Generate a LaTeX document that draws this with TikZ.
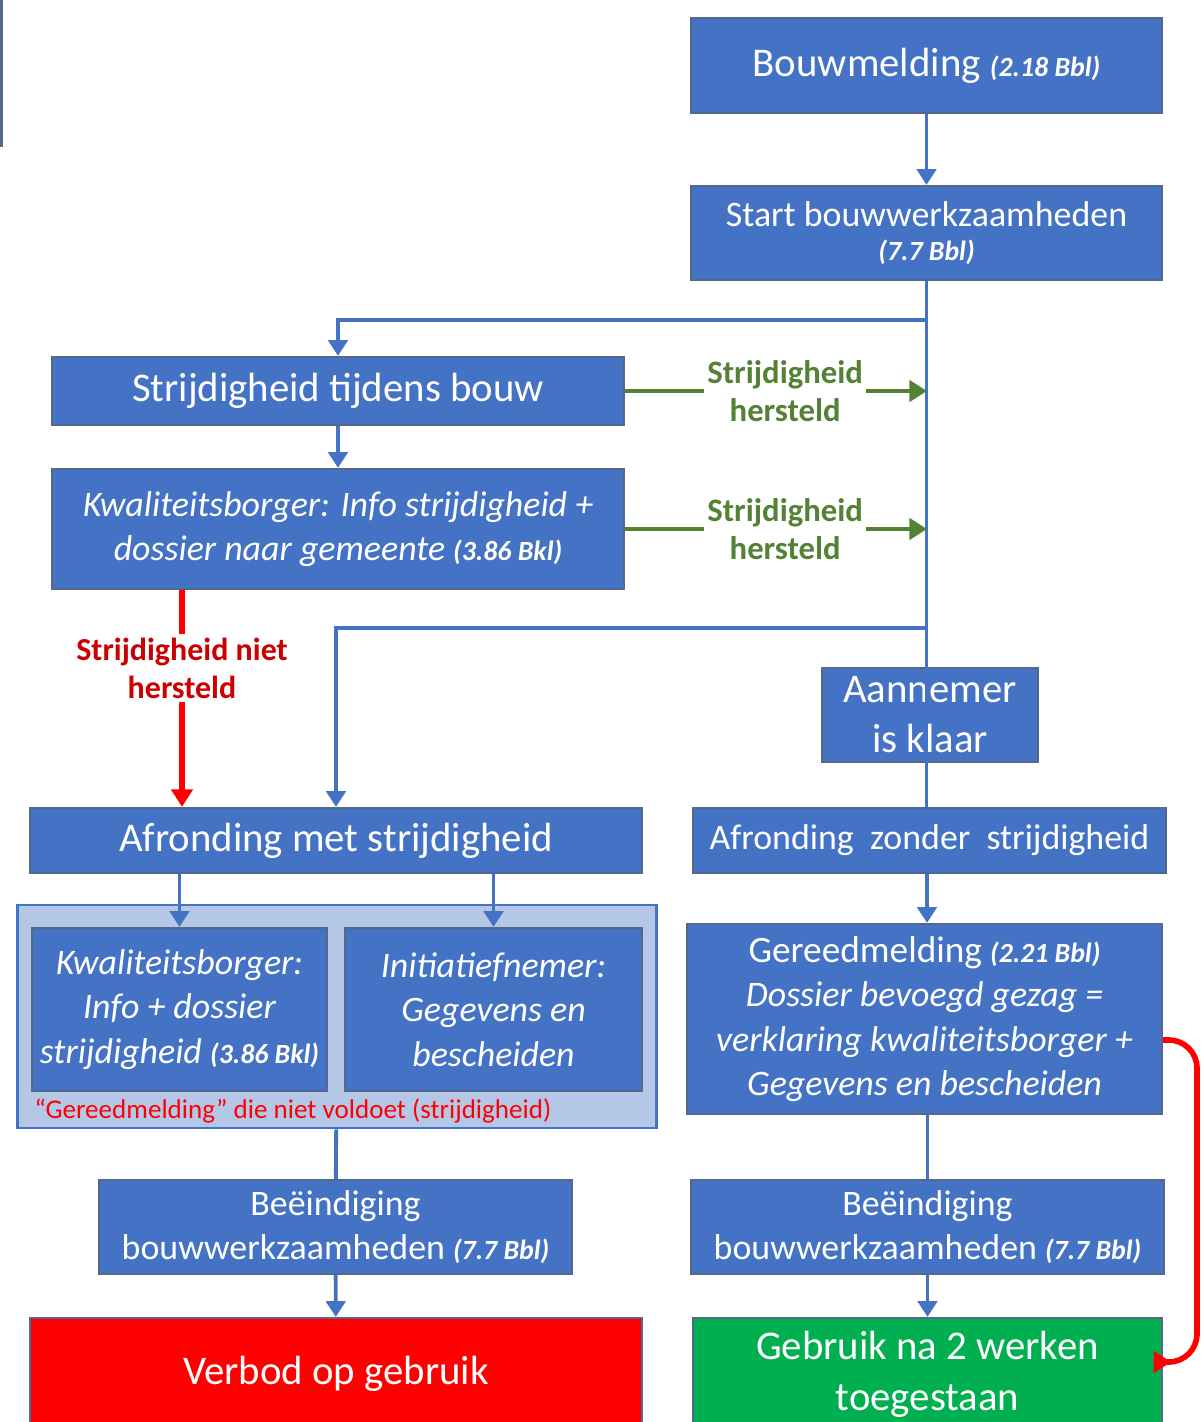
\documentclass[tikz,border=0pt]{standalone}
\usepackage{fontspec}
\setmainfont{Carlito}
\usetikzlibrary{arrows.meta}

\definecolor{boxblue}{RGB}{68,114,196}
\definecolor{edgeblue}{RGB}{84,104,140}
\definecolor{lightblue}{RGB}{180,199,231}
\definecolor{okgreen}{RGB}{84,130,53}
\definecolor{labred}{RGB}{204,0,0}
\definecolor{goodgreen}{RGB}{0,176,80}

\newcommand{\artikel}[1]{{\fontsize{7.9}{8}\selectfont\bfseries\itshape #1}}
\newcommand{\groot}{\fontsize{11.6}{14}\selectfont}
\newcommand{\middel}{\fontsize{10.2}{12.6}\selectfont}
\newcommand{\cursief}{\fontsize{10.2}{12.6}\selectfont\itshape}

\begin{document}
\begin{tikzpicture}[x=0.01cm, y=-0.01cm,
    box/.style={draw=edgeblue, fill=boxblue, text=white, align=center,
        inner sep=0pt, line width=0.6pt},
    arr/.style={draw=boxblue, line width=1.1pt, -{Triangle[length=4.5pt,width=5.5pt]}},
    ln/.style={draw=boxblue, line width=1.1pt},
    okarr/.style={draw=okgreen, line width=1.2pt, -{Triangle[length=5pt,width=6pt]}},
    nokarr/.style={draw=red, line width=1.6pt, -{Triangle[length=5pt,width=6pt]}},
    oklab/.style={fill=white, text=okgreen, align=center, inner sep=1pt,
        font=\bfseries\fontsize{9.3}{10.8}\selectfont},
    noklab/.style={fill=white, text=labred, align=center, inner sep=1pt,
        font=\bfseries\fontsize{9.1}{10.8}\selectfont}]
    \useasboundingbox (0,0) rectangle (1201,1422);
    \draw[edgeblue, line width=1.2pt] (1,0) -- (1,147);

    \node[box, minimum width=4.71cm, minimum height=0.95cm] (melding) at (926.5,65.5)
        {\groot Bouwmelding \artikel{(2.18 Bbl)}};
    \node[box, minimum width=4.71cm, minimum height=0.94cm, font=\middel] (start) at (926.5,233)
        {\rule[-6pt]{0pt}{6pt}Start bouwwerkzaamheden\\[-3pt]\artikel{(7.7 Bbl)}};
    \node[box, minimum width=5.72cm, minimum height=0.68cm] (tijdens) at (338,391)
        {\groot Strijdigheid tijdens bouw};
    \node[box, minimum width=5.72cm, minimum height=1.20cm, font=\cursief] (borger) at (338,529)
        {Kwaliteitsborger: Info strijdigheid +\\
         dossier naar gemeente \artikel{(3.86 Bkl)}};
    \node[box, minimum width=2.16cm, minimum height=0.94cm, font=\fontsize{11.6}{14.2}\selectfont]
        (klaar) at (930,715) {Aannemer\\is klaar};
    \node[box, minimum width=6.12cm, minimum height=0.65cm] (afmet) at (336,840.5)
        {\groot Afronding met strijdigheid};
    \node[box, minimum width=4.73cm, minimum height=0.65cm] (afzonder) at (929.5,840.5)
        {\middel Afronding\ \ zonder\ \ strijdigheid};

    \node[draw=boxblue, fill=lightblue, line width=0.8pt, inner sep=0pt,
        minimum width=6.38cm, minimum height=2.23cm] (groep) at (337,1016.5) {};
    \node[box, minimum width=2.95cm, minimum height=1.63cm, font=\cursief] (borger2) at (179.5,1009.5)
        {Kwaliteitsborger:\\ Info + dossier\\ strijdigheid \artikel{(3.86 Bkl)}};
    \node[box, minimum width=2.97cm, minimum height=1.63cm, font=\cursief] (nemer) at (493.5,1009.5)
        {Initiatiefnemer:\\ Gegevens en\\ bescheiden};
    \node[anchor=west, text=red, inner sep=0pt, font=\fontsize{7.7}{9}\selectfont]
        (voldoet) at (34,1111) {“Gereedmelding” die niet voldoet (strijdigheid)};

    \node[box, minimum width=4.75cm, minimum height=1.90cm, font=\cursief] (gereed) at (924.5,1019)
        {{\upshape\fontsize{10.6}{12.8}\selectfont Gereedmelding} \artikel{(2.21 Bbl)}\\
         Dossier bevoegd gezag =\\
         verklaring kwaliteitsborger +\\
         Gegevens en bescheiden};
    \node[box, minimum width=4.73cm, minimum height=0.94cm, font=\middel] (eindL) at (335.5,1227)
        {Beëindiging\\ bouwwerkzaamheden \artikel{(7.7 Bbl)}};
    \node[box, minimum width=4.73cm, minimum height=0.94cm, font=\middel] (eindR) at (927.5,1227)
        {Beëindiging\\ bouwwerkzaamheden \artikel{(7.7 Bbl)}};
    \node[box, fill=red, minimum width=6.12cm, minimum height=1.12cm] (verbod) at (336,1374)
        {\groot Verbod op gebruik};
    \node[box, fill=goodgreen, minimum width=4.69cm, minimum height=1.12cm,
        font=\fontsize{11.6}{14.6}\selectfont] (gebruik) at (927.5,1374)
        {Gebruik na 2 werken\\toegestaan};

    \coordinate (tak1) at (927,320);
    \coordinate (tak2) at (927,628);
    \coordinate (rand) at (1197,0);

    \draw[arr] (melding) -- (start);
    \draw[ln] (start.south) -- (start.south |- afzonder.north);
    \draw[arr] (tak1) -| (tijdens.north);
    \draw[arr] (tijdens) -- (borger);
    \draw[okarr] (tijdens.east) -- (tijdens.east -| tak1)
        node[oklab, pos=0.53] {Strijdigheid\\hersteld};
    \draw[okarr] (borger.east) -- (borger.east -| tak1)
        node[oklab, pos=0.53] {Strijdigheid\\hersteld};
    \draw[nokarr] (182,0 |- borger.south) -- (182,0 |- afmet.north)
        node[noklab, pos=0.36] {Strijdigheid niet\\hersteld};
    \draw[arr] (tak2) -| (afmet.north);
    \draw[arr] (afzonder.south -| tak1) -- (gereed.north -| tak1);
    \draw[arr] (borger2 |- afmet.south) -- (borger2.north);
    \draw[arr] (nemer |- afmet.south) -- (nemer.north);
    \draw[ln] (groep) -- (eindL);
    \draw[arr] (eindL) -- (verbod);
    \draw[ln] (gereed.south -| eindR) -- (eindR);
    \draw[arr] (eindR) -- (eindR |- gebruik.north);
    \draw[nokarr, rounded corners=8] ([yshift=-0.21cm]gereed.east) -- ([yshift=-0.21cm]gereed.east -| rand)
        -- ([yshift=0.12cm]gebruik.east -| rand) -- ([xshift=0.08cm,yshift=0.12cm]gebruik.east);
\end{tikzpicture}
\end{document}
